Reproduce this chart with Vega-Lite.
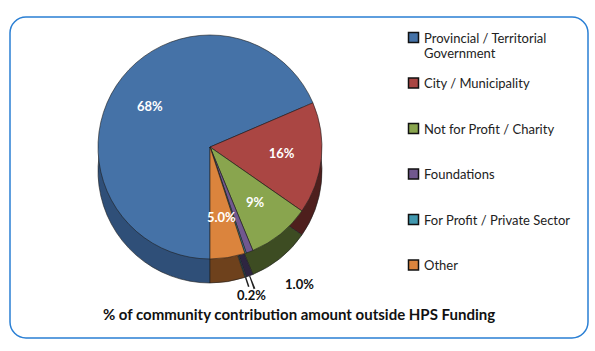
{
  "$schema": "https://vega.github.io/schema/vega-lite/v6.json",
  "width": 578,
  "height": 321,
  "autosize": {"type": "none"},
  "padding": {"left": 10, "top": 17, "right": 7, "bottom": 13},
  "background": "white",
  "config": {
    "view": {"stroke": "#2a7fd4", "strokeWidth": 1.5, "cornerRadius": 16},
    "font": "Lato"
  },
  "title": {
    "text": "% of community contribution amount outside HPS Funding",
    "orient": "bottom",
    "anchor": "middle",
    "offset": -30,
    "fontSize": 15,
    "fontWeight": "bold",
    "color": "#111111",
    "font": "Lato"
  },
  "data": {
    "values": [
      {"source": "Provincial / Territorial Government", "pct": 68, "label": "68%", "order": 1},
      {"source": "City / Municipality", "pct": 16, "label": "16%", "order": 2},
      {"source": "Not for Profit / Charity", "pct": 9, "label": "9%", "order": 3},
      {"source": "Foundations", "pct": 1.0, "label": "1.0%", "order": 4},
      {"source": "For Profit / Private Sector", "pct": 0.2, "label": "0.2%", "order": 5},
      {"source": "Other", "pct": 5.0, "label": "5.0%", "order": 6}
    ]
  },
  "encoding": {
    "theta": {"field": "pct", "type": "quantitative", "stack": true, "scale": {"range": [3.14159, 9.42478]}},
    "order": {"field": "order", "type": "quantitative"},
    "x": {"value": 200},
    "y": {"value": 130}
  },
  "layer": [
    {
      "mark": {"type": "arc", "outerRadius": 112, "yOffset": 24, "stroke": "#1e1e1e", "strokeWidth": 0.6},
      "encoding": {
        "color": {
          "field": "source", "type": "nominal", "legend": null,
          "sort": ["Provincial / Territorial Government", "City / Municipality", "Not for Profit / Charity", "Foundations", "For Profit / Private Sector", "Other"],
          "scale": {"range": ["#2f4f78", "#4e1f1d", "#3d4c22", "#2e2541", "#1f4653", "#6e411c"]}
        }
      }
    },
    {
      "mark": {"type": "arc", "outerRadius": 112, "stroke": "#1e1e1e", "strokeWidth": 0.6},
      "encoding": {
        "color": {
          "field": "source", "type": "nominal",
          "sort": ["Provincial / Territorial Government", "City / Municipality", "Not for Profit / Charity", "Foundations", "For Profit / Private Sector", "Other"],
          "scale": {"range": ["#4572a7", "#aa4643", "#89a54e", "#71588f", "#4198af", "#db843d"]},
          "legend": {
            "title": null,
            "orient": "none",
            "legendX": 397,
            "legendY": 14,
            "symbolType": "square",
            "symbolSize": 100,
            "symbolStrokeColor": "#111111",
            "symbolStrokeWidth": 1.5,
            "labelFont": "Lato",
            "labelFontSize": 13,
            "labelColor": "#222222",
            "labelLimit": 200,
            "labelBaseline": "alphabetic",
            "labelOffset": 4,
            "gridAlign": "all",
            "rowPadding": 13.5,
            "encode": {"labels": {"update": {"dy": {"value": 5}}}},
            "labelExpr": "datum.label == 'Provincial / Territorial Government' ? ['Provincial / Territorial', 'Government'] : datum.label"
          }
        }
      }
    },
    {
      "mark": {"type": "arc", "innerRadius": 112, "outerRadius": 126, "yOffset": 24, "padAngle": 0.036, "fill": "#222222"},
      "encoding": {
        "opacity": {"condition": {"test": "datum.source == 'Foundations'", "value": 1}, "value": 0}
      }
    },
    {
      "mark": {"type": "arc", "innerRadius": 112, "outerRadius": 122, "yOffset": 24, "fill": "#222222"},
      "encoding": {
        "opacity": {"condition": {"test": "datum.source == 'For Profit / Private Sector'", "value": 1}, "value": 0}
      }
    },
    {
      "mark": {"type": "text", "radius": 72, "fontSize": 13, "fontWeight": "bold", "fill": "white", "font": "Lato"},
      "encoding": {"text": {"condition": {"test": "datum.pct >= 3", "field": "label"}, "value": ""}}
    },
    {
      "mark": {"type": "text", "radius": 140, "dx": 40, "dy": 7, "fontSize": 13, "fontWeight": "bold", "fill": "#111111", "font": "Lato"},
      "encoding": {"text": {"condition": {"test": "datum.source == 'Foundations'", "field": "label"}, "value": ""}}
    },
    {
      "mark": {"type": "text", "radius": 140, "dx": -3, "dy": 16, "fontSize": 13, "fontWeight": "bold", "fill": "#111111", "font": "Lato"},
      "encoding": {"text": {"condition": {"test": "datum.source == 'For Profit / Private Sector'", "field": "label"}, "value": ""}}
    }
  ],
  "resolve": {"scale": {"color": "independent"}}
}
